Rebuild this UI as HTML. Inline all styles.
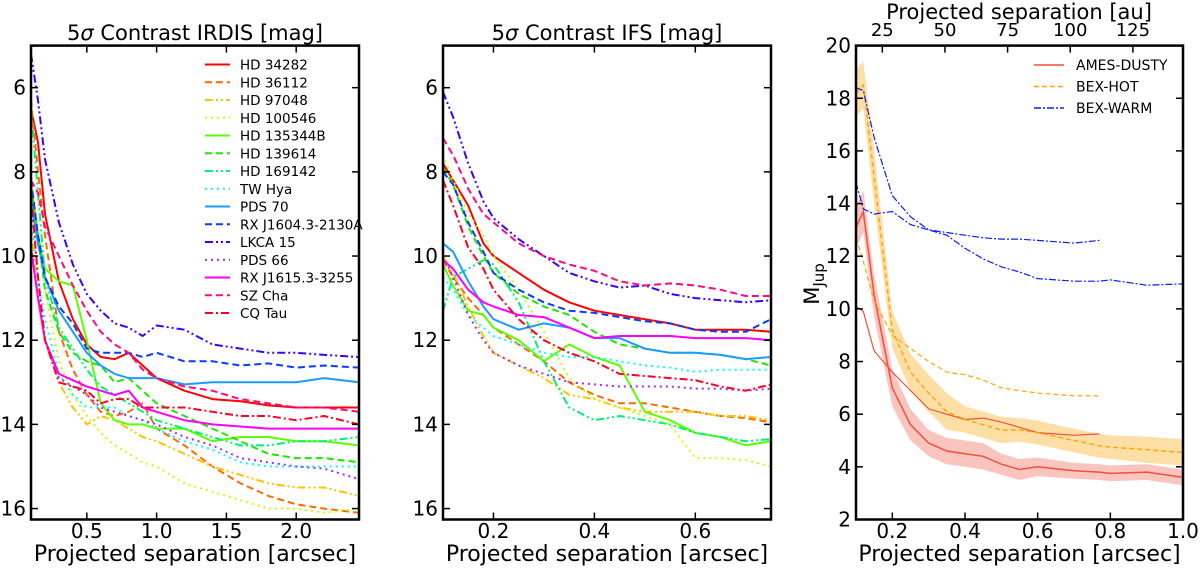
<!DOCTYPE html>
<html><head><meta charset="utf-8"><style>
html,body{margin:0;padding:0;background:#fff;}
svg{display:block;font-family:"DejaVu Sans","Liberation Sans",sans-serif;}
</style></head><body>
<svg id="fig" width="1200" height="568" viewBox="0 0 1200 568" xmlns="http://www.w3.org/2000/svg"></svg>
<script>
// ---------- data ----------
const names = ["HD 34282","HD 36112","HD 97048","HD 100546","HD 135344B","HD 139614","HD 169142","TW Hya","PDS 70","RX J1604.3-2130A","LKCA 15","PDS 66","RX J1615.3-3255","SZ Cha","CQ Tau"];
const irdisX = [0.1,0.15,0.2,0.3,0.4,0.5,0.6,0.7,0.8,0.9,1.0,1.2,1.4,1.6,1.8,2.0,2.2,2.45];
const irdis_hd34282 = [6.5,7.3,9,10.6,11.5,12.1,12.4,12.45,12.3,12.6,12.9,13.2,13.4,13.45,13.55,13.6,13.6,13.6];
const irdis_hd36112 = [6.3,8,9.5,11.8,12.7,13.3,13.7,13.8,13.7,13.5,14.1,14.5,15.0,15.4,15.7,15.9,16.0,16.1];
const irdis_hd97048 = [9.2,11,12,13,13.6,14.0,13.8,13.9,14.1,14.3,14.4,14.7,15.0,15.2,15.4,15.5,15.5,15.7];
const irdis_hd100546 = [8,9.5,10.8,12.5,13.3,13.8,14.2,14.5,14.7,14.9,15.0,15.4,15.6,15.8,16.0,16.0,16.1,16.0];
const irdis_hd135344b = [8.5,9.5,10.3,10.6,10.7,12.0,13.5,13.9,14.0,14.0,14.1,14.1,14.4,14.3,14.3,14.4,14.4,14.5];
const irdis_hd139614 = [8.3,9.5,10.8,11.8,12.3,12.5,12.6,13.0,12.9,13.2,13.5,13.8,14.1,14.4,14.7,14.8,14.8,14.9];
const irdis_hd169142 = [6.5,8.5,10.5,11.7,12.2,12.7,13.1,13.3,13.5,13.7,13.9,14.1,14.3,14.5,14.5,14.4,14.4,14.3];
const irdis_twhya = [9,10.5,11.5,12.8,13.3,13.6,13.6,13.6,13.8,13.9,14.1,14.4,14.6,14.9,15.0,15.0,15.0,15.0];
const irdis_pds70 = [8.7,9.7,10.5,11.3,11.8,12.3,12.6,12.8,12.9,12.9,12.9,13.05,13.0,13.0,13.0,13.0,12.9,13.0];
const irdis_rxj1604 = [8.2,9.5,10.5,11.2,11.6,12.2,12.3,12.3,12.3,12.4,12.3,12.5,12.5,12.6,12.55,12.65,12.6,12.65];
const irdis_lkca15 = [5.2,6.3,7.7,9.2,10.2,10.9,11.3,11.6,11.7,11.9,11.65,11.75,12.1,12.2,12.3,12.3,12.35,12.4];
const irdis_pds66 = [9.8,11,12,12.9,13.1,13.3,13.6,13.7,13.8,13.9,14.0,14.3,14.5,14.8,14.9,15.0,15.05,15.3];
const irdis_rxj1615 = [9.8,11,12,12.8,12.95,13.1,13.2,13.3,13.2,13.6,13.7,13.9,14.0,14.05,14.1,14.1,14.1,14.1];
const irdis_szcha = [8.2,8.5,9.3,10.0,10.7,11.3,11.8,12.1,12.3,12.7,12.9,13.1,13.2,13.4,13.5,13.6,13.6,13.7];
const irdis_cqtau = [8.5,10.5,12,13,13.1,13.2,13.5,13.4,13.4,13.6,13.6,13.6,13.7,13.8,13.8,13.9,13.8,14.0];

const ifsX = [0.1,0.12,0.15,0.18,0.2,0.25,0.3,0.35,0.4,0.45,0.5,0.55,0.6,0.65,0.7,0.75];
const ifs_hd34282 = [7.8,8.2,8.8,9.7,10.0,10.4,10.8,11.1,11.3,11.4,11.5,11.6,11.75,11.75,11.75,11.8];
const ifs_hd36112 = [10.1,10.5,11.0,11.4,11.7,12.1,12.5,13.0,13.3,13.5,13.5,13.6,13.7,13.8,13.85,13.95];
const ifs_hd97048 = [10.0,10.4,11.2,11.9,12.3,12.6,12.9,13.3,13.4,13.6,13.7,13.7,13.7,13.8,13.8,13.9];
const ifs_hd100546 = [7.6,8.2,9.0,9.5,10.0,10.8,11.8,12.9,13.4,13.6,13.8,14.0,14.8,14.8,14.85,15.0];
const ifs_hd135344b = [10.2,10.7,11.3,11.4,11.7,12.0,12.5,12.1,12.4,12.6,13.7,13.9,14.2,14.3,14.5,14.4];
const ifs_hd139614 = [7.9,8.3,9.3,10.0,10.4,10.9,11.2,11.4,11.8,12.1,12.2,12.3,12.3,12.35,12.45,12.6];
const ifs_hd169142 = [11.3,10.5,10.3,10.1,10.2,11.1,12.5,13.6,13.9,13.8,13.9,14.0,14.2,14.3,14.4,14.35];
const ifs_twhya = [10.5,10.8,11.4,11.7,11.9,12.1,12.3,12.4,12.4,12.5,12.6,12.65,12.75,12.7,12.7,12.7];
const ifs_pds70 = [9.7,9.9,10.6,11.2,11.5,11.75,11.6,11.7,11.95,11.95,12.2,12.3,12.3,12.35,12.45,12.4];
const ifs_rxj1604 = [8.0,8.3,9.2,9.9,10.4,10.8,11.1,11.3,11.35,11.45,11.55,11.6,11.75,11.8,11.8,11.5];
const ifs_lkca15 = [6.1,6.7,7.8,8.7,9.1,9.6,10.0,10.4,10.6,10.75,10.7,10.9,11.0,11.05,11.1,11.05];
const ifs_pds66 = [10.0,10.5,11.4,12.0,12.3,12.6,12.8,13.0,13.05,13.1,13.1,13.1,13.15,13.15,13.2,13.15];
const ifs_rxj1615 = [10.1,10.3,10.8,11.1,11.2,11.4,11.45,11.7,11.95,11.9,11.9,11.9,11.95,11.95,11.95,12.0];
const ifs_szcha = [7.2,7.6,8.4,9.0,9.2,9.7,10.0,10.2,10.35,10.6,10.7,10.65,10.7,10.8,10.95,10.95];
const ifs_cqtau = [8.2,8.8,9.8,10.3,10.8,11.5,12.0,12.3,12.5,12.8,12.85,12.9,12.95,13.1,13.2,13.05];

const massX = [0.1,0.12,0.15,0.2,0.25,0.3,0.35,0.4,0.45,0.5,0.55,0.6,0.7,0.77,0.8,0.9,1.0];
const amesThick = [13.1,13.7,10.5,7.0,5.6,4.9,4.6,4.5,4.4,4.1,3.9,4.0,3.85,3.8,3.75,3.8,3.6];
const amesErr = [0.8,0.8,0.8,0.7,0.6,0.5,0.5,0.5,0.5,0.4,0.4,0.35,0.3,0.3,0.3,0.3,0.3];
const amesThin = [10.1,9.9,8.4,7.6,6.9,6.2,6.0,5.8,5.85,5.7,5.5,5.3,5.2,5.25];
const hotThick = [18.2,18.5,15,9.2,7.6,6.8,6.1,5.8,5.6,5.4,5.4,5.3,5.0,4.8,4.75,4.65,4.55];
const hotErr = [0.9,0.9,1.0,0.7,0.7,0.7,0.7,0.5,0.5,0.5,0.45,0.45,0.45,0.45,0.45,0.5,0.5];
const hotThin = [12.7,11.8,10.3,9.0,8.5,8.0,7.6,7.5,7.3,7.0,6.9,6.8,6.7,6.7];
const warmThick = [18.4,18.3,16.5,14.3,13.5,13.0,12.8,12.3,11.9,11.6,11.4,11.15,11.05,11.05,11.1,10.9,10.95];
const warmThin = [14.8,13.8,13.6,13.7,13.2,13.0,12.9,12.8,12.7,12.65,12.65,12.6,12.5,12.6];
const irdisYTicks = [6,8,10,12,14,16];
const irdisXTicks = [0.5,1.0,1.5,2.0];
const ifsXTicks = [0.2,0.4,0.6];
const massYTicks = [2,4,6,8,10,12,14,16,18,20];
const massXTicks = [0.2,0.4,0.6,0.8,1.0];
const auTicks = [25,50,75,100,125];

const irdisSeries = [irdis_hd34282,irdis_hd36112,irdis_hd97048,irdis_hd100546,irdis_hd135344b,irdis_hd139614,irdis_hd169142,irdis_twhya,irdis_pds70,irdis_rxj1604,irdis_lkca15,irdis_pds66,irdis_rxj1615,irdis_szcha,irdis_cqtau];
const ifsSeries = [ifs_hd34282,ifs_hd36112,ifs_hd97048,ifs_hd100546,ifs_hd135344b,ifs_hd139614,ifs_hd169142,ifs_twhya,ifs_pds70,ifs_rxj1604,ifs_lkca15,ifs_pds66,ifs_rxj1615,ifs_szcha,ifs_cqtau];

// styles
const colors = ["#ff0000","#ff6a00","#ffc400","#c8ff00","#5cff00","#1ee600","#00f07a","#00ffff","#1e9bff","#0a3cff","#3c00ff","#a428ff","#ff00ff","#ff0a82","#ff0022"];
const dashes = ["","7,4","8,3,2,3,2,3","2,4","","7,4","8,3,2,3,2,3","2,4","","7,4","8,3,2,3,2,3","2,4","","7,4","8,3,2,3"];

const NS="http://www.w3.org/2000/svg";
const svg=document.getElementById('fig');
const PY0=45.6, PY1=519.5;
function mk(tag,attrs,parent){const e=document.createElementNS(NS,tag);for(const k in attrs)e.setAttribute(k,attrs[k]);(parent||svg).appendChild(e);return e;}
function lin(d0,d1,r0,r1){return v=>r0+(v-d0)*(r1-r0)/(d1-d0);}

function axesBox(g,x0,x1,y0,y1){
  const r=mk('rect',{x:x0,y:y0,width:x1-x0,height:y1-y0,fill:'none',stroke:'#000','stroke-width':2.5},g);
  
  
}

function panel(name,xs,series,xd,ticksX,ticksY,yd,px0,px1,title,legend){
  const g=mk('g',{});
  
  
  const py0=PY0,py1=PY1;
  const X=lin(xd[0],xd[1],px0,px1), Y=lin(yd[0],yd[1],py0,py1);
  const clipId=name+'-clip';
  const cp=mk('clipPath',{id:clipId},g);mk('rect',{x:px0,y:py0,width:px1-px0,height:py1-py0},cp);
  const lg=mk('g',{'clip-path':'url(#'+clipId+')'},g);
  series.forEach((s,i)=>{
    const p=mk('polyline',{points:s.map((v,j)=>X(xs[j]).toFixed(1)+','+Y(v).toFixed(1)).join(' '),fill:'none',stroke:colors[i],'stroke-width':2,'stroke-dasharray':dashes[i],'stroke-linejoin':'round'},lg);
    
    
  });
  axesBox(g,px0,px1,py0,py1);
  ticksY.forEach(t=>{
    const y=Y(t);
    mk('line',{x1:px0,x2:px0+7,y1:y,y2:y,stroke:'#000','stroke-width':1.5},g);
    mk('line',{x1:px1-7,x2:px1,y1:y,y2:y,stroke:'#000','stroke-width':1.5},g);
    const tx=mk('text',{x:px0-5,y:y+7,'text-anchor':'end','font-size':20},g);tx.textContent=t;
    
    
  });
  ticksX.forEach(t=>{
    const x=X(t);
    mk('line',{x1:x,x2:x,y1:py1,y2:py1-7,stroke:'#000','stroke-width':1.5},g);
    mk('line',{x1:x,x2:x,y1:py0,y2:py0+7,stroke:'#000','stroke-width':1.5},g);
    const tx=mk('text',{x:x,y:538,'text-anchor':'middle','font-size':20},g);tx.textContent=t.toFixed(1);
    
    
  });
  const xt=mk('text',{x:(px0+px1)/2,y:561,'text-anchor':'middle','font-size':22},g);xt.textContent='Projected separation [arcsec]';
  
  
  const tt=mk('text',{x:(px0+px1)/2,y:40,'text-anchor':'middle','font-size':21},g);
  tt.innerHTML='5<tspan font-style="italic">σ</tspan> '+title;
  
  
  if(legend){
    names.forEach((n,i)=>{
      const y=64.5+i*17.75;
      const l=mk('line',{x1:205,x2:230,y1:y,y2:y,stroke:colors[i],'stroke-width':2,'stroke-dasharray':dashes[i]},g);
      
      
      const t=mk('text',{x:240,y:y+5,'font-size':13.5},g);t.textContent=n;
      
      
    });
  }
}
panel('irdis-panel',irdisX,irdisSeries,[0.1,2.45],irdisXTicks,irdisYTicks,[5,16.26],31,359,'Contrast IRDIS [mag]',true);
panel('ifs-panel',ifsX,ifsSeries,[0.1,0.75],ifsXTicks,irdisYTicks,[5,16.26],443,771,'Contrast IFS [mag]',false);

// ---------- mass panel ----------
(function(){
  const g=mk('g',{});
  
  
  const px0=856,px1=1183,py0=PY0,py1=PY1;
  const X=lin(0.1,1.0,px0,px1), Y=lin(20,2,py0,py1);
  const cp=mk('clipPath',{id:'mclip'},g);mk('rect',{x:px0,y:py0,width:px1-px0,height:py1-py0},cp);
  const lg=mk('g',{'clip-path':'url(#mclip)'},g);
  function band(vals,err,col,nm){
    const up=vals.map((v,j)=>X(massX[j]).toFixed(1)+','+Y(v+err[j]).toFixed(1));
    const dn=vals.map((v,j)=>X(massX[j]).toFixed(1)+','+Y(v-err[j]).toFixed(1)).reverse();
    const p=mk('polygon',{points:up.concat(dn).join(' '),fill:col,'fill-opacity':0.45,stroke:'none'},lg);
    
    
  }
  function line(vals,col,w,dash,nm){
    const p=mk('polyline',{points:vals.map((v,j)=>X(massX[j]).toFixed(1)+','+Y(v).toFixed(1)).join(' '),fill:'none',stroke:col,'stroke-width':w,'stroke-dasharray':dash},lg);
    
    
  }
  band(amesThick,amesErr,'#f77f70','ames-dusty-band');
  band(hotThick,hotErr,'#fbb83a','bex-hot-band');
  line(amesThick,'#f0503c',1.5,'','ames-dusty-irdis');
  line(amesThin,'#f0503c',1.2,'','ames-dusty-ifs');
  line(hotThick,'#ffa500',1.4,'5,3','bex-hot-irdis');
  line(hotThin,'#ffa500',1.2,'5,3','bex-hot-ifs');
  line(warmThick,'#0a1eff',1.2,'7,2,2,2','bex-warm-irdis');
  line(warmThin,'#0a1eff',1.2,'7,2,2,2','bex-warm-ifs');
  axesBox(g,px0,px1,py0,py1);
  massYTicks.forEach(t=>{
    const y=Y(t);
    mk('line',{x1:px0,x2:px0+7,y1:y,y2:y,stroke:'#000','stroke-width':1.5},g);
    mk('line',{x1:px1-7,x2:px1,y1:y,y2:y,stroke:'#000','stroke-width':1.5},g);
    const tx=mk('text',{x:px0-5,y:y+7,'text-anchor':'end','font-size':20},g);tx.textContent=t;
    
    
  });
  massXTicks.forEach(t=>{
    const x=X(t);
    mk('line',{x1:x,x2:x,y1:py1,y2:py1-7,stroke:'#000','stroke-width':1.5},g);
    const tx=mk('text',{x:x,y:538,'text-anchor':'middle','font-size':20},g);tx.textContent=t.toFixed(1);
    
    
  });
  auTicks.forEach(t=>{
    const x=X(t/145);
    mk('line',{x1:x,x2:x,y1:py0,y2:py0+7,stroke:'#000','stroke-width':1.5},g);
    const tx=mk('text',{x:x,y:36,'text-anchor':'middle','font-size':18},g);tx.textContent=t;
    
    
  });
  const xt=mk('text',{x:(px0+px1)/2,y:561,'text-anchor':'middle','font-size':22},g);xt.textContent='Projected separation [arcsec]';
  
  
  const tt=mk('text',{x:1019,y:19,'text-anchor':'middle','font-size':21},g);tt.textContent='Projected separation [au]';
  
  
  const yt=mk('text',{x:0,y:0,'text-anchor':'middle','font-size':21,transform:'translate(819,284) rotate(-90)'},g);
  yt.innerHTML='M<tspan font-size="15" dy="5">Jup</tspan>';
  
  
  const leg=[['AMES-DUSTY','#f0503c',''],['BEX-HOT','#ffa500','5,3'],['BEX-WARM','#0a1eff','7,2,2,2']];
  leg.forEach((e,i)=>{
    const y=65+i*21.5;
    const l=mk('line',{x1:1034,x2:1064,y1:y,y2:y,stroke:e[1],'stroke-width':1.4,'stroke-dasharray':e[2]},g);
    
    
    const t=mk('text',{x:1076,y:y+5,'font-size':14},g);t.textContent=e[0];
    
    
  });
})();
</script>
</body></html>
